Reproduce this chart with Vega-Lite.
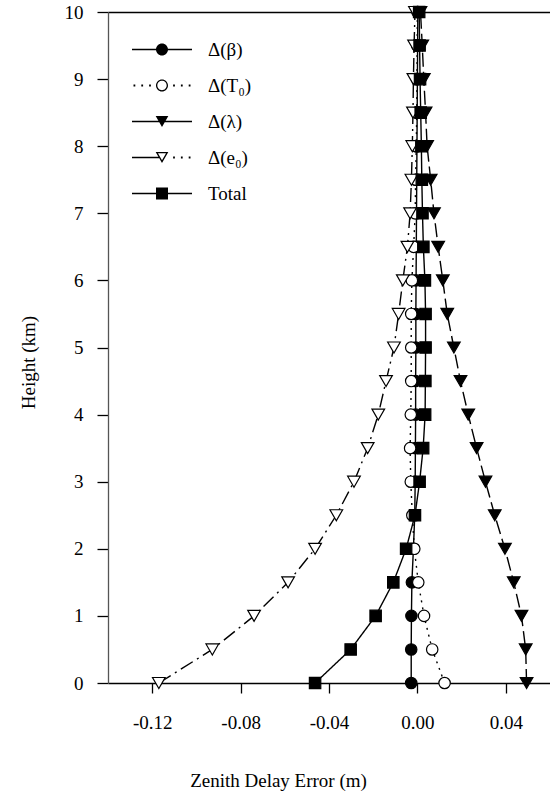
{
  "$schema": "https://vega.github.io/schema/vega-lite/v6.json",
  "width": 442,
  "height": 671,
  "autosize": "none",
  "padding": {"left": 108, "top": 12, "right": 0, "bottom": 110},
  "background": "white",
  "config": {
    "font": "Liberation Serif",
    "view": {"stroke": null},
    "axis": {"grid": false, "labelFont": "Liberation Serif", "titleFont": "Liberation Serif", "labelColor": "black", "titleColor": "black", "titleFontWeight": "normal", "tickColor": "black", "domainColor": "black"},
    "legend": {"orient": "none", "legendX": 44.5, "legendY": 28, "padding": 0, "labelFont": "Liberation Serif", "labelFontSize": 19, "labelColor": "black", "symbolSize": 144, "symbolStrokeWidth": 0, "symbolOpacity": 1, "rowPadding": 16, "labelOffset": 36.5}
  },
  "datasets": {
    "profiles": [
      {"series": "Δ(β)", "h": 0, "err": -0.0028}, {"series": "Δ(β)", "h": 0.5, "err": -0.0028}, {"series": "Δ(β)", "h": 1, "err": -0.0027}, {"series": "Δ(β)", "h": 1.5, "err": -0.0025}, {"series": "Δ(β)", "h": 2, "err": -0.0018}, {"series": "Δ(β)", "h": 2.5, "err": -0.0012}, {"series": "Δ(β)", "h": 3, "err": -0.001}, {"series": "Δ(β)", "h": 3.5, "err": -0.0009}, {"series": "Δ(β)", "h": 4, "err": -0.0008}, {"series": "Δ(β)", "h": 4.5, "err": -0.0008}, {"series": "Δ(β)", "h": 5, "err": -0.0007}, {"series": "Δ(β)", "h": 5.5, "err": -0.0007}, {"series": "Δ(β)", "h": 6, "err": -0.0006}, {"series": "Δ(β)", "h": 6.5, "err": -0.0005}, {"series": "Δ(β)", "h": 7, "err": -0.0004}, {"series": "Δ(β)", "h": 7.5, "err": -0.0003}, {"series": "Δ(β)", "h": 8, "err": -0.0002}, {"series": "Δ(β)", "h": 8.5, "err": -0.0001}, {"series": "Δ(β)", "h": 9, "err": 0}, {"series": "Δ(β)", "h": 9.5, "err": 0.0001}, {"series": "Δ(β)", "h": 10, "err": 0.0002},
      {"series": "Δ(T₀)", "h": 0, "err": 0.0123}, {"series": "Δ(T₀)", "h": 0.5, "err": 0.0067}, {"series": "Δ(T₀)", "h": 1, "err": 0.003}, {"series": "Δ(T₀)", "h": 1.5, "err": 0.0004}, {"series": "Δ(T₀)", "h": 2, "err": -0.0014}, {"series": "Δ(T₀)", "h": 2.5, "err": -0.0023}, {"series": "Δ(T₀)", "h": 3, "err": -0.003}, {"series": "Δ(T₀)", "h": 3.5, "err": -0.0033}, {"series": "Δ(T₀)", "h": 4, "err": -0.003}, {"series": "Δ(T₀)", "h": 4.5, "err": -0.0028}, {"series": "Δ(T₀)", "h": 5, "err": -0.0028}, {"series": "Δ(T₀)", "h": 5.5, "err": -0.0028}, {"series": "Δ(T₀)", "h": 6, "err": -0.0025}, {"series": "Δ(T₀)", "h": 6.5, "err": -0.0017}, {"series": "Δ(T₀)", "h": 7, "err": -0.001}, {"series": "Δ(T₀)", "h": 7.5, "err": -0.0008}, {"series": "Δ(T₀)", "h": 8, "err": -0.0005}, {"series": "Δ(T₀)", "h": 8.5, "err": -0.0003}, {"series": "Δ(T₀)", "h": 9, "err": -0.0002}, {"series": "Δ(T₀)", "h": 9.5, "err": -0.0001}, {"series": "Δ(T₀)", "h": 10, "err": 0},
      {"series": "Δ(λ)", "h": 0, "err": 0.0494}, {"series": "Δ(λ)", "h": 0.5, "err": 0.049}, {"series": "Δ(λ)", "h": 1, "err": 0.0471}, {"series": "Δ(λ)", "h": 1.5, "err": 0.0436}, {"series": "Δ(λ)", "h": 2, "err": 0.0396}, {"series": "Δ(λ)", "h": 2.5, "err": 0.035}, {"series": "Δ(λ)", "h": 3, "err": 0.0308}, {"series": "Δ(λ)", "h": 3.5, "err": 0.0268}, {"series": "Δ(λ)", "h": 4, "err": 0.023}, {"series": "Δ(λ)", "h": 4.5, "err": 0.0195}, {"series": "Δ(λ)", "h": 5, "err": 0.0165}, {"series": "Δ(λ)", "h": 5.5, "err": 0.0135}, {"series": "Δ(λ)", "h": 6, "err": 0.0115}, {"series": "Δ(λ)", "h": 6.5, "err": 0.0094}, {"series": "Δ(λ)", "h": 7, "err": 0.0075}, {"series": "Δ(λ)", "h": 7.5, "err": 0.006}, {"series": "Δ(λ)", "h": 8, "err": 0.0044}, {"series": "Δ(λ)", "h": 8.5, "err": 0.0037}, {"series": "Δ(λ)", "h": 9, "err": 0.0029}, {"series": "Δ(λ)", "h": 9.5, "err": 0.0022}, {"series": "Δ(λ)", "h": 10, "err": 0.0014},
      {"series": "Δ(e₀)", "h": 0, "err": -0.117}, {"series": "Δ(e₀)", "h": 0.5, "err": -0.0928}, {"series": "Δ(e₀)", "h": 1, "err": -0.0739}, {"series": "Δ(e₀)", "h": 1.5, "err": -0.0585}, {"series": "Δ(e₀)", "h": 2, "err": -0.0463}, {"series": "Δ(e₀)", "h": 2.5, "err": -0.0367}, {"series": "Δ(e₀)", "h": 3, "err": -0.0287}, {"series": "Δ(e₀)", "h": 3.5, "err": -0.0225}, {"series": "Δ(e₀)", "h": 4, "err": -0.0177}, {"series": "Δ(e₀)", "h": 4.5, "err": -0.0142}, {"series": "Δ(e₀)", "h": 5, "err": -0.0106}, {"series": "Δ(e₀)", "h": 5.5, "err": -0.0085}, {"series": "Δ(e₀)", "h": 6, "err": -0.0066}, {"series": "Δ(e₀)", "h": 6.5, "err": -0.0045}, {"series": "Δ(e₀)", "h": 7, "err": -0.0033}, {"series": "Δ(e₀)", "h": 7.5, "err": -0.0027}, {"series": "Δ(e₀)", "h": 8, "err": -0.0023}, {"series": "Δ(e₀)", "h": 8.5, "err": -0.002}, {"series": "Δ(e₀)", "h": 9, "err": -0.0018}, {"series": "Δ(e₀)", "h": 9.5, "err": -0.0015}, {"series": "Δ(e₀)", "h": 10, "err": -0.0011},
      {"series": "Total", "h": 0, "err": -0.0463}, {"series": "Total", "h": 0.5, "err": -0.0302}, {"series": "Total", "h": 1, "err": -0.0189}, {"series": "Total", "h": 1.5, "err": -0.0109}, {"series": "Total", "h": 2, "err": -0.0051}, {"series": "Total", "h": 2.5, "err": -0.0011}, {"series": "Total", "h": 3, "err": 0.001}, {"series": "Total", "h": 3.5, "err": 0.0026}, {"series": "Total", "h": 4, "err": 0.0035}, {"series": "Total", "h": 4.5, "err": 0.0036}, {"series": "Total", "h": 5, "err": 0.0037}, {"series": "Total", "h": 5.5, "err": 0.0037}, {"series": "Total", "h": 6, "err": 0.0034}, {"series": "Total", "h": 6.5, "err": 0.0027}, {"series": "Total", "h": 7, "err": 0.0023}, {"series": "Total", "h": 7.5, "err": 0.002}, {"series": "Total", "h": 8, "err": 0.0018}, {"series": "Total", "h": 8.5, "err": 0.0015}, {"series": "Total", "h": 9, "err": 0.0012}, {"series": "Total", "h": 9.5, "err": 0.001}, {"series": "Total", "h": 10, "err": 0.0008}
    ]
  },
  "data": {"name": "profiles"},
  "layer": [
    {
      "mark": {"type": "line", "color": "black", "strokeWidth": 1.4, "clip": true},
      "encoding": {
        "x": {"field": "err", "type": "quantitative", "scale": {"domain": [-0.14, 0.06], "nice": false, "zero": false},
          "axis": {"orient": "bottom", "values": [-0.12, -0.08, -0.04, 0, 0.04], "labelExpr": "datum.value < 0 ? '-' + format(-datum.value, '.2f') : format(datum.value, '.2f')", "tickSize": 10, "tickWidth": 1.3, "domainWidth": 1.3, "labelFontSize": 19, "labelPadding": 20, "title": "Zenith Delay Error (m)", "titleFontSize": 19, "titleX": 170, "titleY": 97, "titleBaseline": "middle", "titleAnchor": "middle"}},
        "y": {"field": "h", "type": "quantitative", "scale": {"domain": [0, 10], "nice": false},
          "axis": {"values": [0, 1, 2, 3, 4, 5, 6, 7, 8, 9, 10], "tickSize": 11, "tickWidth": 1.3, "domainWidth": 1.3, "domainColor": "#555555", "labelFontSize": 19, "labelPadding": 14, "title": "Height (km)", "titleFontSize": 19, "titleX": -80, "titleY": 350, "titleBaseline": "middle", "titleAnchor": "middle"}},
        "detail": {"field": "series", "type": "nominal"},
        "order": {"field": "h", "type": "quantitative"},
        "strokeDash": {"condition": [{"test": "datum.series === 'Δ(T₀)'", "value": [2, 5]}, {"test": "datum.series === 'Δ(λ)'", "value": [14, 5]}, {"test": "datum.series === 'Δ(e₀)'", "value": [14, 5, 2, 5]}], "value": [1, 0]}
      }
    },
    {
      "mark": {"type": "point", "filled": true, "stroke": "black", "strokeWidth": 1.2, "opacity": 1},
      "encoding": {
        "x": {"field": "err", "type": "quantitative", "axis": null},
        "y": {"field": "h", "type": "quantitative", "axis": null},
        "fill": {"condition": {"test": "datum.series === 'Δ(T₀)' || datum.series === 'Δ(e₀)'", "value": "white"}, "value": "black"},
        "size": {"condition": {"test": "datum.series === 'Δ(λ)' || datum.series === 'Δ(e₀)'", "value": 160}, "value": 130},
        "shape": {"condition": [{"test": "datum.series === 'Δ(β)' || datum.series === 'Δ(T₀)'", "value": "circle"}, {"test": "datum.series === 'Δ(λ)' || datum.series === 'Δ(e₀)'", "value": "triangle-down"}], "value": "square"}
      }
    },
    {
      "mark": {"type": "point", "filled": true, "color": "black", "opacity": 0},
      "encoding": {
        "x": {"field": "err", "type": "quantitative", "axis": null},
        "y": {"field": "h", "type": "quantitative", "axis": null},
        "shape": {"field": "series", "type": "nominal", "scale": {"domain": ["Δ(β)", "Δ(T₀)", "Δ(λ)", "Δ(e₀)", "Total"], "range": [
          "M-5,-0.12H-0.9V0.12H-5ZM0.9,-0.12H5V0.12H0.9ZM-1,0A1,1 0 1,1 1,0A1,1 0 1,1 -1,0Z",
          "M-4.75,-0.15h0.3v0.3h-0.3ZM-3.45,-0.15h0.3v0.3h-0.3ZM-2.15,-0.15h0.3v0.3h-0.3ZM1.85,-0.15h0.3v0.3h-0.3ZM3.15,-0.15h0.3v0.3h-0.3ZM4.45,-0.15h0.3v0.3h-0.3ZM-1,0A1,1 0 1,1 1,0A1,1 0 1,1 -1,0ZM-0.78,0A0.78,0.78 0 1,0 0.78,0A0.78,0.78 0 1,0 -0.78,0Z",
          "M-5,-0.12H-0.4V0.12H-5ZM0.4,-0.12H5V0.12H0.4ZM-1.054,-0.913L1.054,-0.913L0,0.913Z",
          "M-5,-0.12H-0.5V0.12H-5ZM1.85,-0.15h0.3v0.3h-0.3ZM3.15,-0.15h0.3v0.3h-0.3ZM4.45,-0.15h0.3v0.3h-0.3ZM-1.054,-0.913L1.054,-0.913L0,0.913ZM-0.673,-0.693L0,0.473L0.673,-0.693Z",
          "M-5,-0.12H-0.9V0.12H-5ZM0.9,-0.12H5V0.12H0.9ZM-1,-1H1V1H-1Z"
        ]}, "legend": {"title": null}}
      }
    },
    {
      "mark": {"type": "point", "opacity": 0},
      "encoding": {
        "x": {"field": "err", "type": "quantitative", "axis": {"orient": "top", "labels": false, "ticks": false, "title": null, "domainWidth": 1.3}},
        "y": {"field": "h", "type": "quantitative", "axis": null}
      }
    }
  ],
  "resolve": {"axis": {"x": "independent", "y": "independent"}}
}
